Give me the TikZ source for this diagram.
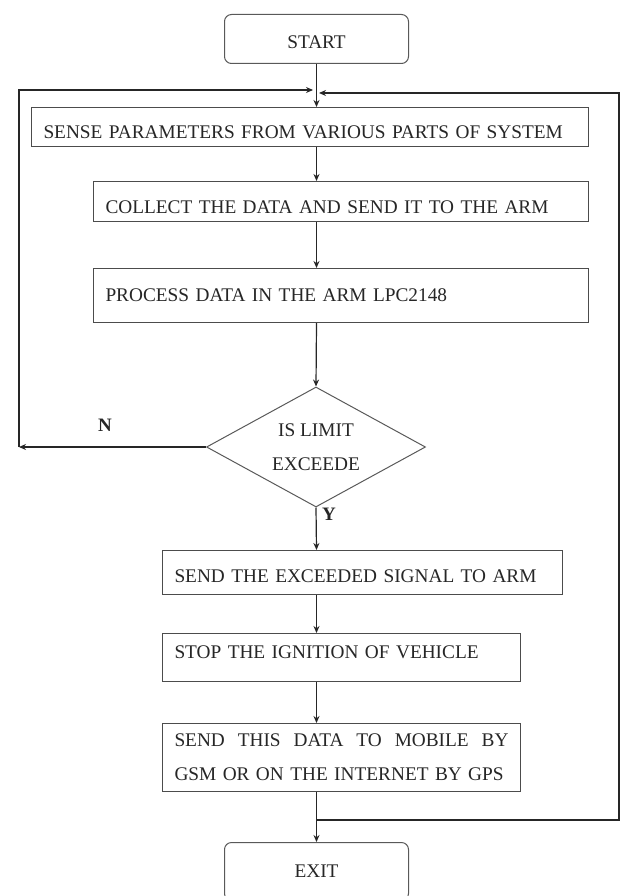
\documentclass[tikz,border=0pt]{standalone}
\usepackage{fontspec}
\setmainfont{Liberation Serif}
\usetikzlibrary{shapes.geometric,arrows.meta}

\begin{document}
\begin{tikzpicture}[x=1pt,y=-1pt,
		flow/.style={draw=black!70, line width=1pt, text=black!85, font=\fontsize{19.3}{34}\selectfont,
			inner xsep=12pt, inner ysep=0pt, align=left, anchor=north west},
		term/.style={draw=black!65, line width=1pt, rounded corners=7pt, text=black!85,
			minimum width=184pt, font=\fontsize{19.3}{23}\selectfont, anchor=north west},
		decision/.style={draw=black!65, line width=1pt, shape=diamond, aspect=1.825, text=black!85,
			minimum width=219pt, minimum height=120pt, inner sep=0pt, align=center,
			font=\fontsize{19.3}{34}\selectfont},
		lbl/.style={text=black!85, font=\fontsize{19}{23}\selectfont\bfseries},
		line/.style={draw=black!85, line width=1.2pt},
		arr/.style={line, -{Stealth[length=7pt,width=6pt]}}]
	\useasboundingbox (0,0) rectangle (624,896);
	% boxes
	\node[term, minimum height=49pt, text height=19.6pt] (start) at (224,14) {START};
	\node[flow, text width=533pt, minimum height=39pt, text height=23.6pt] (sense) at (31,107) {SENSE PARAMETERS FROM VARIOUS PARTS OF SYSTEM};
	\node[flow, text width=471pt, minimum height=40pt, text height=24.6pt] (collect) at (93,181) {COLLECT THE DATA AND SEND IT TO THE ARM};
	\node[flow, text width=471pt, minimum height=54pt] (process) at (93,268) {PROCESS DATA IN THE ARM LPC2148};
	\node[decision] (limit) at (316,447) {IS LIMIT\\EXCEEDE};
	\node[flow, text width=376pt, minimum height=44pt, text height=20.6pt] (signal) at (162,550) {SEND THE EXCEEDED SIGNAL TO ARM};
	\node[flow, text width=334pt, minimum height=48pt, text depth=10pt] (ignition) at (162,633) {STOP THE IGNITION OF VEHICLE};
	\node[flow, text width=334pt, minimum height=68pt] (gsm) at (162,723) {\hbox to 334pt{SEND\hfill THIS\hfill DATA\hfill TO\hfill MOBILE\hfill BY}\\GSM OR ON THE INTERNET BY GPS};
	\node[term, minimum height=58pt] (exit) at (224,842) {EXIT};
	% labels
	\node[lbl] (no) at (105,425) {N};
	\node[lbl] (yes) at (329,514) {Y};
	% loop points
	\coordinate (ljoin) at (313,90);
	\coordinate (rjoin) at (319,93);
	\coordinate (nleft) at (19,447);
	\coordinate (rloop) at (316,820);
	\coordinate (rtop) at (619,93);
	% connectors
	\draw[arr] (start) -- (sense.north -| start);
	\draw[arr] (sense.south -| start) -- (collect.north -| start);
	\draw[arr] (collect.south -| start) -- (process.north -| start);
	\draw[arr] (process.south -| start) -- (limit.north);
	\draw[arr] (limit.west) -- (nleft);
	\draw[arr] (nleft) |- (ljoin);
	\draw[arr] (limit.south) -- (signal.north -| start);
	\draw[arr] (signal.south -| start) -- (ignition.north -| start);
	\draw[arr] (ignition.south -| start) -- (gsm.north -| start);
	\draw[arr] (gsm.south -| start) -- (exit.north);
	\draw[arr] (rloop) -| (rtop) -- (rjoin);
\end{tikzpicture}
\end{document}
